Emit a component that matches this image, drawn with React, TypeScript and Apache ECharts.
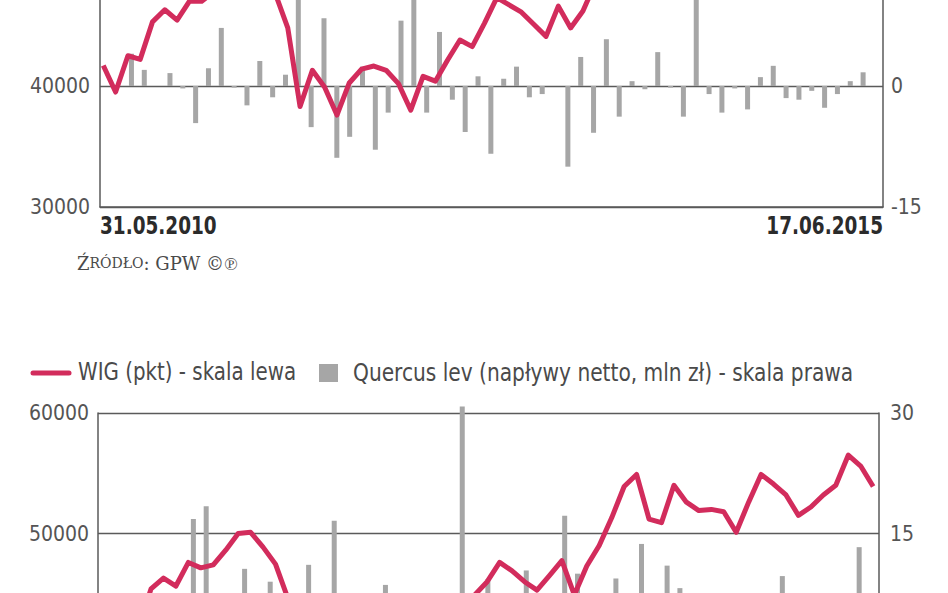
import React, { useEffect, useRef } from "react";
import * as echarts from "echarts";

// ---------- DATA ----------
// WIG index, top panel (points from 31.05.2010 to 17.06.2015)
const wigTop = [
  41700, 39500, 42500, 42200, 45300, 46300, 45450, 47000, 47000, 47800,
  48800, 49800, 50000, 48800, 47600, 44800, 38300, 41300, 39900, 37600,
  40250, 41400, 41650, 41300, 40200, 38000, 40800, 40400, 42150, 43800,
  43250, 45200, 47300, 46700, 46100, 45100, 44100, 46600, 44800, 46200,
  48500, 51000, 53500, 54900, 51200, 50900, 54000, 52600, 51900, 52000,
  51800, 50100, 52600, 54900, 54100, 53200, 51500, 52200, 53200, 54000,
  56500, 55600, 54500, 53900,
];
// net flows of the fund shown in the top panel (mln zł), one per month
const flowsTop = [
  0, 0, 4.0, 2.0, 0, 1.6, -0.3, -4.6, 2.2, 7.2,
  -0.2, -2.4, 3.1, -1.4, 1.4, 13.0, -5.1, 8.4, -8.9, -6.3,
  2.4, -7.9, -3.3, 8.1, 14.0, -3.3, 6.7, -1.7, -5.7, 1.2,
  -8.4, 0.9, 2.4, -1.4, -1.0, 0, -10.0, 3.6, -5.8, 5.8,
  -3.8, 0.6, -0.4, 4.2, -0.2, -3.8, 14.5, -1.0, -3.3, -0.3,
  -2.9, 1.1, 2.5, -1.5, -1.7, -0.6, -2.7, -1.0, 0.6, 1.7,
  0,
];
// WIG index, bottom panel
const wigBottom = [
  41700, 39500, 42500, 42200, 45400, 46300, 45640, 47600, 47150, 47400,
  48620, 50000, 50100, 48870, 47460, 44600, 38300, 41200, 39700, 37600,
  40900, 41650, 41350, 40000, 38000, 40800, 40400, 42300, 43800, 43300,
  44900, 46000, 47600, 46900, 46000, 45300, 46500, 47750, 44900, 47300,
  49000, 51300, 53900, 54900, 51200, 50900, 54000, 52600, 51900, 52000,
  51800, 50100, 52600, 54900, 54100, 53200, 51500, 52200, 53200, 54000,
  56500, 55600, 53900,
];
// Quercus lev net flows (mln zł), one per month
const flowsBottom = [
  0, 2.0, 1.5, -1.0, 3.0, 5.5, 2.5, 16.8, 18.4, 4.0,
  1.0, 10.6, -2.0, 9.0, 3.0, -1.5, 11.1, 2.0, 16.6, -3.0,
  1.0, 4.5, 8.6, -2.0, 0.5, -4.0, 2.0, 3.5, 30.8, 6.0,
  9.3, -1.0, 4.0, 10.4, 2.0, -2.5, 17.2, 10.0, 5.0, 1.5,
  9.4, 3.0, 13.7, -1.0, 11.0, 8.2, 2.0, -2.0, 4.0, 1.0,
  -1.5, 3.0, 5.0, 9.7, 2.0, -1.0, 3.0, 1.5, 4.0, 13.3,
  2.0,
];
const leftTicksTop = [30000, 40000, 50000];
const rightTicksTop = [-15, 0, 15];
const leftTicksBottom = [40000, 50000, 60000];
const rightTicksBottom = [0, 15, 30];
const startDate = "31.05.2010";
const endDate = "17.06.2015";
const legendWig = "WIG (pkt) - skala lewa";
const legendFlows = "Quercus lev (napływy netto, mln zł) - skala prawa";
const sourceText = ["Ź", "RÓDŁO", ": GPW ©℗"];

// ---------- STYLE ----------
const RED = "#d22c5c";
const GRAY = "#a6a6a6";
const AXIS = "#5a5a5a";
const LABEL = "#555555";
const FONT = "'DejaVu Sans Condensed', 'DejaVu Sans', sans-serif";
const SERIF = "'DejaVu Serif', 'Liberation Serif', serif";

export default function App() {
  const ref = useRef<HTMLDivElement>(null);

  useEffect(() => {
    if (!ref.current) return;
    const chart = echarts.init(ref.current, undefined, { renderer: "svg" });

    const axisLabelBase = {
      color: LABEL,
      fontFamily: FONT,
      fontSize: 21,
      formatter: (v: number) => String(v),
    };
    const yLine = { show: true, onZero: false, lineStyle: { color: AXIS, width: 1.5 } };

    const yAxis = [
      {
        type: "value", gridIndex: 0, position: "left",
        min: leftTicksTop[0], max: leftTicksTop[leftTicksTop.length - 1], interval: 10000,
        axisLine: yLine,
        axisTick: { show: false },
        axisLabel: { ...axisLabelBase, margin: 10, showMaxLabel: false },
        splitLine: { show: true, showMaxLine: false, lineStyle: { color: AXIS, width: 1.3 } },
      },
      {
        type: "value", gridIndex: 0, position: "right",
        min: rightTicksTop[0], max: rightTicksTop[rightTicksTop.length - 1], interval: 15,
        axisLine: yLine,
        axisTick: { show: false },
        axisLabel: { ...axisLabelBase, margin: 8, showMaxLabel: false },
        splitLine: { show: false },
      },
      {
        type: "value", gridIndex: 1, position: "left",
        min: leftTicksBottom[0], max: leftTicksBottom[leftTicksBottom.length - 1], interval: 10000,
        axisLine: yLine,
        axisTick: { show: false },
        axisLabel: { ...axisLabelBase, margin: 9, showMinLabel: false },
        splitLine: { show: true, showMinLine: false, lineStyle: { color: AXIS, width: 1.3 } },
      },
      {
        type: "value", gridIndex: 1, position: "right",
        min: rightTicksBottom[0], max: rightTicksBottom[rightTicksBottom.length - 1], interval: 15,
        axisLine: yLine,
        axisTick: { show: false },
        axisLabel: { ...axisLabelBase, margin: 11, showMinLabel: false },
        splitLine: { show: false },
      },
    ];

    const hiddenX = { show: false };
    const xAxis = [
      { type: "value", gridIndex: 0, position: "bottom", min: -0.268, max: 63.4, ...hiddenX },
      {
        type: "value", gridIndex: 0, position: "bottom", min: 0, max: 61,
        axisLine: { show: true, onZero: false, lineStyle: { color: AXIS, width: 1.5 } },
        axisTick: { show: false }, axisLabel: { show: false }, splitLine: { show: false },
      },
      { type: "value", gridIndex: 1, position: "bottom", min: -0.257, max: 62.47, ...hiddenX },
      { type: "value", gridIndex: 1, position: "bottom", min: 0, max: 61, ...hiddenX },
    ];

    const option = {
      animation: false,
      backgroundColor: "#ffffff",
      grid: [
        { left: 100, right: 65, top: -35, bottom: 386, containLabel: false, outerBoundsMode: "none" },
        { left: 98, right: 69, top: 413, bottom: -61, containLabel: false, outerBoundsMode: "none" },
      ],
      xAxis,
      yAxis,
      series: [
        {
          name: "Fundusz (napływy netto)",
          type: "bar",
          xAxisIndex: 1, yAxisIndex: 1,
          barWidth: 5,
          clip: false,
          itemStyle: { color: GRAY },
          data: flowsTop.map((v, i) => [i + 0.45, v]),
          z: 2,
        },
        {
          name: "WIG",
          type: "line",
          xAxisIndex: 0, yAxisIndex: 0,
          showSymbol: false,
          clip: false,
          lineStyle: { color: RED, width: 5, join: "round" },
          data: wigTop.map((v, j) => [j, v]),
          z: 3,
        },
        {
          name: legendFlows,
          type: "bar",
          xAxisIndex: 3, yAxisIndex: 3,
          barWidth: 5,
          clip: false,
          itemStyle: { color: GRAY },
          data: flowsBottom.map((v, i) => [i + 0.45, v]),
          z: 2,
        },
        {
          name: legendWig,
          type: "line",
          xAxisIndex: 2, yAxisIndex: 2,
          showSymbol: false,
          clip: false,
          lineStyle: { color: RED, width: 5, join: "round" },
          data: wigBottom.map((v, j) => [j, v]),
          z: 3,
        },
      ],
      graphic: [
        {
          type: "text", x: 100, y: 213, scaleX: 0.82,
          style: { text: startDate, fontFamily: FONT, fontWeight: "bold", fontSize: 25, fill: "#2b2b2b" },
        },
        {
          type: "text", x: 883, y: 213, scaleX: 0.82,
          style: { text: endDate, fontFamily: FONT, fontWeight: "bold", fontSize: 25, fill: "#2b2b2b", align: "right" },
        },
        {
          type: "text", x: 77, y: 254,
          style: {
            text: `{a|${sourceText[0]}}{b|${sourceText[1]}}{a|${sourceText[2]}}`,
            rich: {
              a: { fontFamily: SERIF, fontSize: 18, fill: "#4a4a4a" },
              b: { fontFamily: SERIF, fontSize: 14, fill: "#4a4a4a" },
            },
          },
        },
        {
          type: "line",
          shape: { x1: 33, y1: 373, x2: 69, y2: 373 },
          style: { stroke: RED, lineWidth: 5, lineCap: "round" },
        },
        {
          type: "text", x: 78, y: 360, scaleX: 0.92,
          style: { text: legendWig, fontFamily: FONT, fontSize: 24, fill: "#4a4a4a" },
        },
        {
          type: "rect",
          shape: { x: 319, y: 364, width: 19, height: 18 },
          style: { fill: GRAY },
        },
        {
          type: "text", x: 353, y: 360, scaleX: 0.935,
          style: { text: legendFlows, fontFamily: FONT, fontSize: 24, fill: "#4a4a4a" },
        },
      ],
    };

    chart.setOption(option as any);
    return () => chart.dispose();
  }, []);

  return (
    <div
      ref={ref}
      style={{ position: "absolute", left: 0, top: 0, width: 948, height: 593, overflow: "hidden" }}
    />
  );
}
